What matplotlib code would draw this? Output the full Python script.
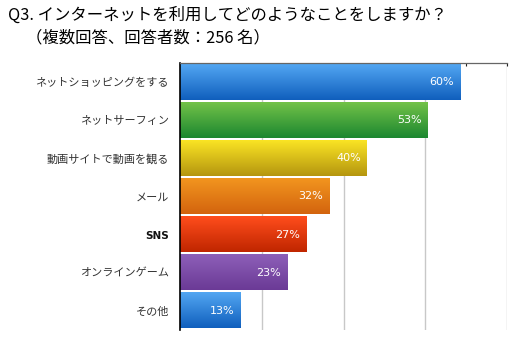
import numpy as np
import matplotlib.pyplot as plt
from matplotlib.colors import LinearSegmentedColormap

plt.rcParams['font.family'] = ['Noto Sans CJK JP', 'DejaVu Sans']

# data
categories = ['ネットショッピングをする', 'ネットサーフィン', '動画サイトで動画を観る',
              'メール', 'SNS', 'オンラインゲーム', 'その他']
values = [60, 53, 40, 32, 27, 23, 13]
# bar colours: (top, bottom) of the vertical gradient
top_colors = ['#52a6f2', '#72c248', '#fae424', '#f2951f', '#ff4d1c', '#8d5fb8', '#52a6f2']
bottom_colors = ['#105fbd', '#1c8730', '#b5960f', '#d3640e', '#c02600', '#6b3a96', '#105fbd']
title_line1 = 'Q3. インターネットを利用してどのようなことをしますか？'
title_line2 = '（複数回答、回答者数：256 名）'

fig = plt.figure(figsize=(5.29, 3.55), dpi=100)
ax = fig.add_axes([180 / 529, 1 - 330 / 355, 327 / 529, 267 / 355])

xmax = 70
bar_h = 0.92
grad = np.linspace(0, 1, 64).reshape(-1, 1)
for i, v in enumerate(values):
    cmap = LinearSegmentedColormap.from_list('g', [top_colors[i], bottom_colors[i]])
    ax.imshow(grad, cmap=cmap, aspect='auto', interpolation='bilinear',
              extent=(0, v, i + bar_h / 2, i - bar_h / 2), zorder=2)
    ax.text(v - 1.3, i, f'{v}%', ha='right', va='center', color='white',
            fontsize=8, family=['DejaVu Sans'], zorder=3)

ax.set_xlim(0, xmax)
ax.set_ylim(len(values) - 0.5, -0.5)

# grid every quarter, top ticks every eighth
for gx in np.linspace(0, xmax, 5)[1:]:
    ax.axvline(gx, color='#c8c8c8', lw=1, zorder=1)
ax.set_xticks(np.linspace(0, xmax, 9))
ax.xaxis.tick_top()
ax.tick_params(axis='x', direction='in', length=2.5, width=0.8, color='#222222',
               labeltop=False, labelbottom=False)
ax.set_yticks(range(len(categories)))
ax.set_yticklabels(categories)
ax.tick_params(axis='y', length=0, pad=8, labelsize=8, labelcolor='#333333')
for lbl in ax.get_yticklabels():
    if lbl.get_text() == 'SNS':
        lbl.set_family(['DejaVu Sans'])
        lbl.set_fontweight('bold')
        lbl.set_fontsize(7.5)
        lbl.set_color('#111111')

for s in ['bottom', 'right']:
    ax.spines[s].set_visible(False)
ax.spines['top'].set_color('#666666')
ax.spines['top'].set_linewidth(0.9)
ax.spines['left'].set_color('#000000')
ax.spines['left'].set_linewidth(1.2)

fig.text(8 / 529, 1 - 15 / 355, title_line1, fontsize=11.8, va='center', ha='left')
fig.text(26 / 529, 1 - 38 / 355, title_line2, fontsize=11.8, va='center', ha='left')

fig.savefig('out.png', dpi=100, facecolor='white')
